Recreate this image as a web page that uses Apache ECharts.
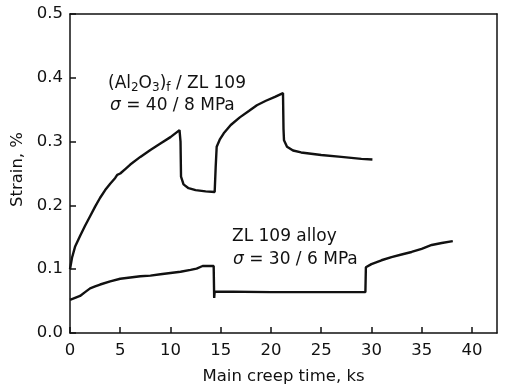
<!DOCTYPE html>
<html>
<head>
<meta charset="utf-8">
<script src="https://cdn.jsdelivr.net/npm/echarts@6/dist/echarts.min.js"></script>
<style>html,body{margin:0;padding:0;background:#fff}#c{width:507px;height:390px}</style>
</head>
<body>
<div id="c"></div>
<script>
// Composite (Al2O3)f / ZL 109
var compTime = [0, 0.2, 0.5, 1.0, 1.5, 2.0, 2.5, 3.0, 3.5, 4.0, 4.5, 4.7, 5.0, 5.5, 6.0, 7.0, 8.0, 9.0, 10.0, 10.9, 11.0, 11.05, 11.3, 11.8, 12.5, 13.5, 14.4, 14.5, 14.6, 14.9, 15.3, 16.0, 16.9, 17.8, 18.6, 19.5, 20.4, 21.2, 21.25, 21.3, 21.6, 22.2, 23.0, 25.0, 27.0, 29.0, 30.1];
var compStrain = [0.100, 0.118, 0.135, 0.152, 0.168, 0.183, 0.198, 0.212, 0.224, 0.234, 0.243, 0.248, 0.250, 0.257, 0.264, 0.276, 0.287, 0.297, 0.307, 0.318, 0.300, 0.245, 0.233, 0.227, 0.224, 0.222, 0.221, 0.260, 0.292, 0.303, 0.313, 0.326, 0.338, 0.348, 0.357, 0.364, 0.370, 0.376, 0.320, 0.302, 0.292, 0.286, 0.283, 0.279, 0.276, 0.273, 0.272];
// ZL 109 alloy
var alloyTime = [0, 0.5, 1.0, 1.5, 2.0, 2.5, 3.0, 4.0, 5.0, 6.0, 7.0, 8.0, 9.0, 10.0, 11.0, 12.0, 12.6, 13.2, 14.3, 14.35, 14.4, 20.0, 25.0, 29.4, 29.45, 30.0, 31.0, 32.0, 33.0, 34.0, 35.0, 36.0, 37.0, 38.1];
var alloyStrain = [0.052, 0.055, 0.058, 0.064, 0.070, 0.073, 0.076, 0.081, 0.085, 0.087, 0.089, 0.090, 0.092, 0.094, 0.096, 0.099, 0.101, 0.105, 0.105, 0.055, 0.065, 0.064, 0.064, 0.064, 0.103, 0.108, 0.114, 0.119, 0.123, 0.127, 0.132, 0.138, 0.141, 0.144];
var xTicks = [0, 5, 10, 15, 20, 25, 30, 35, 40];
var yTicks = [0.0, 0.1, 0.2, 0.3, 0.4, 0.5];

function pairs(xs, ys) { return xs.map(function (x, i) { return [x, ys[i]]; }); }

var FONT = '"DejaVu Sans", Verdana, sans-serif';
var INK = '#111';
var chart = echarts.init(document.getElementById('c'), null, {renderer: 'canvas'});
var axisLineStyle = {color: INK, width: 1.5};
chart.setOption({
  animation: false,
  backgroundColor: '#fff',
  grid: {left: 70, right: 10, top: 14, bottom: 57},
  xAxis: [{
    type: 'value', min: 0, max: 42.5, interval: 5, position: 'bottom',
    axisLine: {show: true, onZero: false, lineStyle: axisLineStyle},
    axisTick: {show: true, inside: true, length: 6, lineStyle: axisLineStyle},
    axisLabel: {fontSize: 16.5, color: INK, fontFamily: FONT, margin: 9, showMaxLabel: false,
      formatter: function (v) { return xTicks.indexOf(v) >= 0 ? String(v) : ''; }},
    splitLine: {show: false},
    name: 'Main creep time, ks', nameLocation: 'middle', nameGap: 35,
    nameTextStyle: {fontSize: 16.5, color: INK, fontFamily: FONT}
  }, {
    type: 'value', min: 0, max: 42.5, interval: 5, position: 'top',
    axisLine: {show: true, onZero: false, lineStyle: axisLineStyle},
    axisTick: {show: false},
    axisLabel: {show: false}, splitLine: {show: false}
  }],
  yAxis: [{
    type: 'value', min: 0, max: 0.5, interval: 0.1, position: 'left',
    axisLine: {show: true, onZero: false, lineStyle: axisLineStyle},
    axisTick: {show: true, inside: true, length: 6, lineStyle: axisLineStyle},
    axisLabel: {fontSize: 16.5, color: INK, fontFamily: FONT, margin: 7,
      formatter: function (v) { return v.toFixed(1); }},
    splitLine: {show: false},
    name: 'Strain, %', nameLocation: 'middle', nameGap: 37, nameRotate: 90,
    nameTextStyle: {fontSize: 16.5, color: INK, fontFamily: FONT, padding: [0, 0, 0, 8]}
  }, {
    type: 'value', min: 0, max: 0.5, interval: 0.1, position: 'right',
    axisLine: {show: true, onZero: false, lineStyle: axisLineStyle},
    axisTick: {show: false},
    axisLabel: {show: false}, splitLine: {show: false}
  }],
  series: [{
    name: '(Al2O3)f / ZL 109', type: 'line', xAxisIndex: 0, yAxisIndex: 0,
    data: pairs(compTime, compStrain), showSymbol: false, symbol: 'none', smooth: false,
    lineStyle: {color: INK, width: 2.4}
  }, {
    name: 'ZL 109 alloy', type: 'line', xAxisIndex: 0, yAxisIndex: 0,
    data: pairs(alloyTime, alloyStrain), showSymbol: false, symbol: 'none', smooth: false,
    lineStyle: {color: INK, width: 2.4}
  }],
  graphic: [{
    type: 'text', left: 108, top: 75,
    style: {
      text: '(Al{sub|2}O{sub|3}){sub|f} / ZL 109',
      font: '17px ' + FONT, fill: INK,
      rich: {sub: {fontSize: 12, fontFamily: FONT, fill: INK, verticalAlign: 'bottom', padding: [8, 0, 0, 0]}}
    }
  }, {
    type: 'text', left: 110, top: 97,
    style: {
      text: '{it|σ} = 40 / 8 MPa',
      font: '17px ' + FONT, fill: INK,
      rich: {it: {fontStyle: 'italic', fontSize: 17, fontFamily: FONT, fill: INK}}
    }
  }, {
    type: 'text', left: 232, top: 228,
    style: {text: 'ZL 109 alloy', font: '17px ' + FONT, fill: INK}
  }, {
    type: 'text', left: 233, top: 251,
    style: {
      text: '{it|σ} = 30 / 6 MPa',
      font: '17px ' + FONT, fill: INK,
      rich: {it: {fontStyle: 'italic', fontSize: 17, fontFamily: FONT, fill: INK}}
    }
  }]
});
</script>
</body>
</html>
